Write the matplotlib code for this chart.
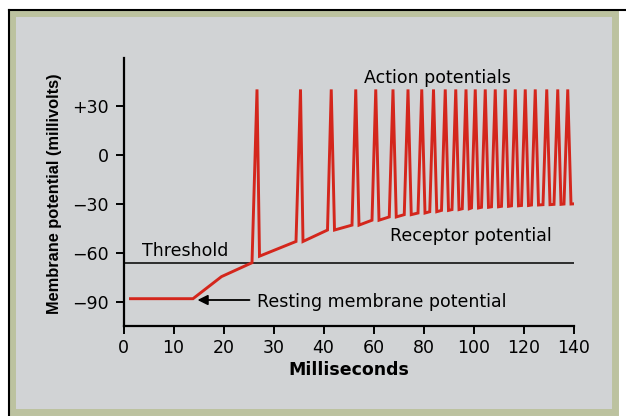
import numpy as np
import matplotlib
matplotlib.use("Agg")
import matplotlib.pyplot as plt
from matplotlib.patches import Rectangle
from matplotlib.lines import Line2D

plt.rcParams['font.family'] = ['DejaVu Sans']

# x axis is not linear: equally spaced ticks with these labels (ms)
x_ticks = [0, 10, 20, 30, 40, 60, 80, 100, 120, 140]
y_ticks = [30, 0, -30, -60, -90]
y_tick_labels = ['+30', '0', '\u221230', '\u221260', '\u221290']

threshold = -66
peak = 40

# resting potential and rise of the receptor potential (ms, mV)
rest_t = [1.4, 13.9, 19.6, 25.7]
rest_v = [-88, -88, -74.5, -66]

# action potential peak times (ms) and the receptor potential beneath each
spike_t = [26.7, 35.4, 43.1, 52.9, 60.9, 67.8, 73.8, 79.3, 84.0, 88.7, 92.9,
           97.0, 100.7, 104.7, 108.7, 112.7, 116.7, 120.7, 124.7, 129.3,
           133.7, 137.7]
base_v = [-62, -53, -46, -43, -40, -38, -36.6, -35.6, -34.8, -34.0, -33.5,
          -33.0, -32.5, -32.1, -31.8, -31.5, -31.2, -31.0, -30.7, -30.5,
          -30.3, -30.1]
end_t, end_v = 140, -30

red = '#d4261c'

# piecewise linear scale so that ticks sit evenly
ms_ext = [-100] + x_ticks + [340]
pos_ext = [-10] + list(range(len(x_ticks))) + [19]


def forward(x):
    return np.interp(x, ms_ext, pos_ext)


def inverse(p):
    return np.interp(p, pos_ext, ms_ext)


# build the trace
tt = list(rest_t)
vv = list(rest_v)
for i, (t, b) in enumerate(zip(spike_t, base_v)):
    rise, fall = (0.9, 0.5) if t < 40 else (1.5, 1.3)
    if i > 0:
        tt.append(t - rise)
        vv.append(b)
    tt.append(t)
    vv.append(peak)
    tt.append(t + fall)
    vv.append(b)
tt.append(end_t)
vv.append(end_v)

fig = plt.figure(figsize=(6.26, 4.16), dpi=100)
fig.patch.set_facecolor('white')

# scanned page background
fig.patches.append(Rectangle((12 / 626, 4 / 416), 603 / 626, 399 / 416,
                             transform=fig.transFigure, facecolor='#d1d3d5',
                             edgecolor='#bcc29f', linewidth=5, zorder=-2))
fig.lines.append(Line2D([9 / 626, 9 / 626], [0, 406 / 416], transform=fig.transFigure,
                        color='black', linewidth=1.5))
fig.lines.append(Line2D([9 / 626, 1], [406 / 416, 406 / 416], transform=fig.transFigure,
                        color='black', linewidth=1.5))

ax = fig.add_axes([123.5 / 626, 90 / 416, 450 / 626, 268 / 416])
ax.set_facecolor('none')
ax.set_xscale('function', functions=(forward, inverse))
ax.set_xlim(0, 140)
ax.set_ylim(-104.7, 59.2)

ax.plot(tt, vv, color=red, linewidth=2.1, solid_joinstyle='miter', zorder=3)
ax.axhline(threshold, color='black', linewidth=1.1, zorder=2)

ax.spines['top'].set_visible(False)
ax.spines['right'].set_visible(False)
for s in ['left', 'bottom']:
    ax.spines[s].set_linewidth(1.6)

ax.set_xticks(x_ticks)
ax.set_xticklabels([str(v) for v in x_ticks])
ax.set_yticks(y_ticks)
ax.set_yticklabels(y_tick_labels)
ax.tick_params(axis='both', labelsize=12.5, width=1.4, length=5.5, color='black')
ax.tick_params(axis='x', pad=4)
ax.tick_params(axis='y', pad=5)

ax.set_xlabel('Milliseconds', fontsize=12.5, fontweight='bold', labelpad=3)
ax.set_ylabel('Membrane potential (millivolts)', fontsize=11.8, fontweight='bold',
              family='Liberation Sans')
ax.yaxis.set_label_coords(-0.136, 0.494)

ax.text(85.5, 47, 'Action potentials', fontsize=12.5, ha='center', va='center')
ax.text(99.1, -49.5, 'Receptor potential', fontsize=12.5, ha='center', va='center')
ax.text(3.6, -58.8, 'Threshold', fontsize=12.5, ha='left', va='center')
ax.text(26.7, -89.8, 'Resting membrane potential', fontsize=12.5, ha='left', va='center')
ax.annotate('', xy=(14.8, -88.8), xytext=(25.2, -88.8),
            arrowprops=dict(arrowstyle='-|>', color='black', lw=1.3,
                            mutation_scale=15, shrinkA=0, shrinkB=0))

fig.savefig('out.png', dpi=100)
